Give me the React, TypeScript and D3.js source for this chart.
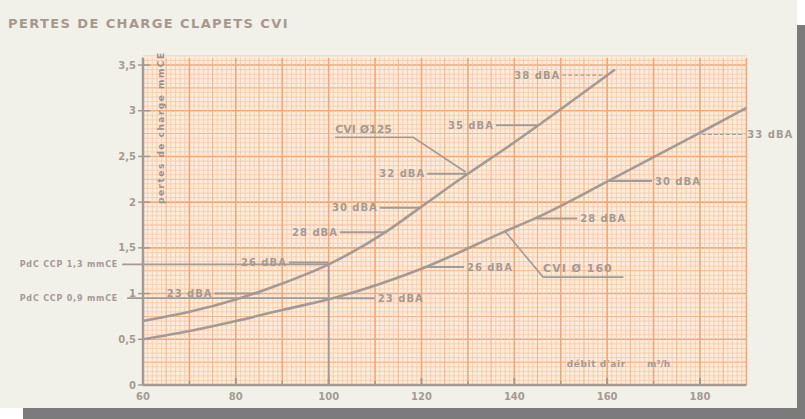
import React from 'react'
import * as d3 from 'd3'

// axes
const xTicks = [60, 80, 100, 120, 140, 160, 180]
const xMinorTicks = [70, 90, 110, 130, 150, 170]
const yTicks = [0, 0.5, 1, 1.5, 2, 2.5, 3, 3.5]
const yTickLabels = ['0', '0,5', '1', '1,5', '2', '2,5', '3', '3,5']

// CVI Ø125 : débit (m3/h) -> perte de charge (mmCE)
const q125 = [60, 70, 80, 90, 100, 112.5, 119.7, 130, 137.6, 144.9, 161.7]
const dp125 = [0.70, 0.80, 0.935, 1.11, 1.32, 1.68, 1.94, 2.31, 2.57, 2.83, 3.45]

// CVI Ø160
const q160 = [60, 70, 80, 90, 101.7, 120.4, 138, 144.8, 160.6, 180.4, 190]
const dp160 = [0.50, 0.59, 0.70, 0.82, 0.96, 1.28, 1.68, 1.83, 2.24, 2.77, 3.03]

// niveaux sonores sur la courbe Ø125 (texte à gauche)
const dba125 = ['23 dBA', '26 dBA', '28 dBA', '30 dBA', '32 dBA', '35 dBA', '38 dBA']
const dba125Q = [85.2, 100, 112.5, 119.7, 130, 144.9, 159.5]
const dba125Dp = [1.0, 1.34, 1.67, 1.94, 2.31, 2.84, 3.39]
const dba125TextQ = [75, 91, 102, 110.6, 120.8, 135.6, 149.9]

// niveaux sonores sur la courbe Ø160 (texte à droite)
const dba160 = ['23 dBA', '26 dBA', '28 dBA', '30 dBA', '33 dBA']
const dba160Q = [101.7, 120.4, 144.8, 160.6, 180.4]
const dba160Dp = [0.95, 1.29, 1.82, 2.23, 2.74]
const dba160TextQ = [110.6, 129.8, 154.2, 170.3, 190.2]

// points de fonctionnement CCP
const ccpLabels = ['PdC CCP 1,3 mmCE', 'PdC CCP 0,9 mmCE']
const ccpDp = [1.32, 0.95]
const ccpQ = 100

const ink = '#a59a93'
const font = '"DejaVu Sans", Verdana, sans-serif'

export default function App() {
  const x = d3.scaleLinear().domain([60, 190]).range([143, 746.4])
  const y = d3.scaleLinear().domain([0, 3.5]).range([385, 65])
  const yTop = 3.58

  const line = d3.line<[number, number]>()
    .x(d => x(d[0]))
    .y(d => y(d[1]))
    .curve(d3.curveMonotoneX)

  const c125 = line(q125.map((q, i) => [q, dp125[i]]))
  const c160 = line(q160.map((q, i) => [q, dp160[i]]))

  // papier millimétré
  const vLines = d3.range(60, 191, 1)
  const hLines = d3.range(0, Math.round(yTop / 0.05) + 1).map(i => i * 0.05)
  const vStyle = (v: number) => v % 10 === 0 ? ['#f3a677', 1.6] : v % 5 === 0 ? ['#f5b58b', 1.1] : ['#f7c5a3', 0.75]
  const hStyle = (i: number) => i % 10 === 0 ? ['#f3a677', 1.6] : i % 5 === 0 ? ['#f5b58b', 1.1] : ['#f7c5a3', 0.75]

  const txt = { fontFamily: font, fontWeight: 700, fill: ink } as const

  return (
    <svg width={805} height={419} style={{ position: 'absolute', left: 0, top: 0 }}>
      <rect x={23} y={25} width={782} height={394} fill="#7b7b7b" />
      <rect x={0} y={0} width={797} height={408} fill="#f1f1ea" />

      <text x={8} y={28} fontSize={13} letterSpacing={1.4} {...txt} fill="#a8978d">PERTES DE CHARGE CLAPETS CVI</text>

      {/* grille */}
      <rect x={x(60)} y={y(yTop)} width={x(190) - x(60)} height={y(0) - y(yTop)} fill="#fbecdc" />
      {hLines.map((v, i) => {
        const [c, w] = hStyle(i)
        return <line key={'h' + i} x1={x(60)} x2={x(190)} y1={y(v)} y2={y(v)} stroke={c as string} strokeWidth={w as number} />
      })}
      {vLines.map(v => {
        const [c, w] = vStyle(v)
        return <line key={'v' + v} x1={x(v)} x2={x(v)} y1={y(0)} y2={y(yTop)} stroke={c as string} strokeWidth={w as number} />
      })}

      {/* axes */}
      <line x1={x(60)} x2={x(60)} y1={y(0)} y2={y(yTop)} stroke={ink} strokeWidth={2.5} />
      <line x1={x(60)} x2={x(190)} y1={y(0)} y2={y(0)} stroke={ink} strokeWidth={2.5} />
      {yTicks.map((t, i) => (
        <g key={'yt' + t}>
          <line x1={x(60) - 5} x2={x(60) + 7} y1={y(t)} y2={y(t)} stroke={ink} strokeWidth={1.5} />
          <text x={x(60) - 7} y={y(t)} dy="0.35em" textAnchor="end" fontSize={10} {...txt}>{yTickLabels[i]}</text>
        </g>
      ))}
      {xTicks.map(t => (
        <g key={'xt' + t}>
          <line x1={x(t)} x2={x(t)} y1={y(0)} y2={y(0) - 7} stroke={ink} strokeWidth={2} />
          <text x={x(t)} y={y(0) + 15} textAnchor="middle" fontSize={10} {...txt}>{t}</text>
        </g>
      ))}
      {xMinorTicks.map(t => (
        <line key={'xm' + t} x1={x(t)} x2={x(t)} y1={y(0)} y2={y(0) - 4} stroke={ink} strokeWidth={1.5} />
      ))}

      <text transform={`translate(${x(60) + 21},${y(1.98)}) rotate(-90)`} fontSize={9} letterSpacing={1.5} {...txt} fill="#9d9089">pertes de charge mmCE</text>
      <text x={x(151.3)} y={y(0.2)} fontSize={9} letterSpacing={0.6} {...txt}>débit d'air</text>
      <text x={x(168.6)} y={y(0.2)} fontSize={9} {...txt}>m³/h</text>

      {/* points CCP */}
      {ccpDp.map((d, i) => (
        <g key={'ccp' + i}>
          <line x1={x(55.5) + (i ? 5 : 0)} x2={x(ccpQ)} y1={y(d)} y2={y(d)} stroke={ink} strokeWidth={1.8} />
          <text x={x(55.5) - 4} y={y(d)} dy="0.35em" textAnchor="end" fontSize={8} letterSpacing={0.8} {...txt}>{ccpLabels[i]}</text>
        </g>
      ))}
      <line x1={x(ccpQ)} x2={x(ccpQ)} y1={y(0)} y2={y(ccpDp[0])} stroke={ink} strokeWidth={1.8} />

      {/* courbes */}
      <path d={c125 ?? ''} fill="none" stroke={ink} strokeWidth={2.6} />
      <path d={c160 ?? ''} fill="none" stroke={ink} strokeWidth={2.6} />

      {dba125.map((l, i) => (
        <g key={'a' + i}>
          <line x1={x(dba125TextQ[i]) + 2} x2={x(dba125Q[i])} y1={y(dba125Dp[i])} y2={y(dba125Dp[i])} stroke={ink}
            strokeWidth={i === 6 ? 1.2 : 2} strokeDasharray={i === 6 ? '4,2' : undefined} />
          <text x={x(dba125TextQ[i])} y={y(dba125Dp[i])} dy="0.35em" textAnchor="end" fontSize={10} letterSpacing={1} {...txt}>{l}</text>
        </g>
      ))}
      {dba160.map((l, i) => (
        <g key={'b' + i}>
          <line x1={x(dba160Q[i])} x2={x(dba160TextQ[i]) - 3} y1={y(dba160Dp[i])} y2={y(dba160Dp[i])} stroke={ink}
            strokeWidth={i === 4 ? 1.2 : 2} strokeDasharray={i === 4 ? '4,2' : undefined} />
          <text x={x(dba160TextQ[i])} y={y(dba160Dp[i])} dy="0.35em" fontSize={10} letterSpacing={1} {...txt}>{l}</text>
        </g>
      ))}

      {/* étiquettes des courbes */}
      <text x={x(101.4)} y={y(2.76)} fontSize={11} {...txt}>CVI Ø125</text>
      <polyline points={`${x(101.4)},${y(2.71)} ${x(118.2)},${y(2.71)} ${x(129.5)},${y(2.33)}`} fill="none" stroke={ink} strokeWidth={1.6} />
      <text x={x(146.2)} y={y(1.24)} fontSize={11} letterSpacing={1} {...txt}>CVI Ø 160</text>
      <polyline points={`${x(163.5)},${y(1.18)} ${x(146.2)},${y(1.18)} ${x(138)},${y(1.68)}`} fill="none" stroke={ink} strokeWidth={1.6} />
    </svg>
  )
}
